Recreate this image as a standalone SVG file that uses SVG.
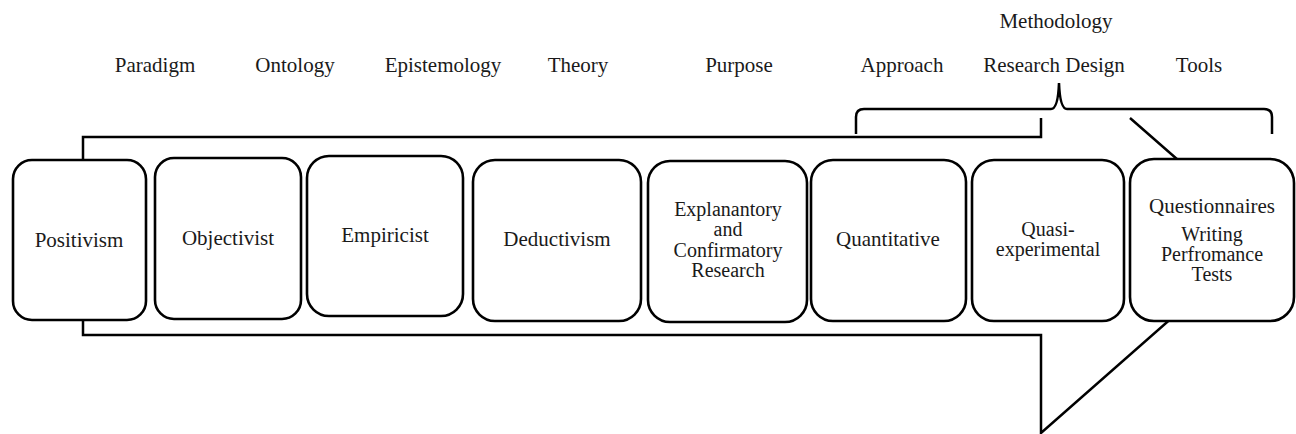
<svg xmlns="http://www.w3.org/2000/svg" width="1296" height="434" viewBox="0 0 1296 434">
<style>
.ln{fill:none;stroke:#000;stroke-width:2.5;stroke-linejoin:miter}
.bx{fill:#fff;stroke:#000;stroke-width:2.6}
.t{font-family:"Liberation Serif","Times New Roman",serif;font-size:21px;fill:#1a1a1a;text-anchor:middle}
.m{font-size:20px}
</style>
<rect width="1296" height="434" fill="#fff"/>
<g id="connectors">
<path id="arrow" d="M1041,118 V137 H83 V335 H1041 V433 L1265,236 L1130,118" fill="#fff" stroke="#000" stroke-width="2.5"/>
<path id="brace" class="ln" d="M856,134 V117 Q856,109 864,109 H1051 Q1058,109 1059,83 Q1060,109 1067,109 H1264 Q1272,109 1272,117 V134"/>
</g>
<g id="headers" class="t">
<text x="1056" y="28">Methodology</text>
<text x="155" y="72">Paradigm</text>
<text x="295" y="72">Ontology</text>
<text x="443" y="72">Epistemology</text>
<text x="578" y="72">Theory</text>
<text x="739" y="72">Purpose</text>
<text x="902" y="72">Approach</text>
<text x="1054" y="72">Research Design</text>
<text x="1199" y="72">Tools</text>
</g>
<g class="t">
<g id="n1"><rect class="bx" x="13" y="160" width="133" height="160" rx="19"/><text x="79" y="247">Positivism</text></g>
<g id="n2"><rect class="bx" x="155" y="158" width="146" height="161" rx="19"/><text x="228" y="245">Objectivist</text></g>
<g id="n3"><rect class="bx" x="307" y="156" width="156" height="160" rx="22"/><text x="385" y="242">Empiricist</text></g>
<g id="n4"><rect class="bx" x="473" y="160" width="168" height="161" rx="22"/><text x="557" y="246">Deductivism</text></g>
<g id="n5" class="m"><rect class="bx" x="648" y="161" width="159" height="161" rx="22"/>
<text x="728" y="216">Explanantory</text><text x="728" y="236">and</text><text x="728" y="257">Confirmatory</text><text x="728" y="277">Research</text></g>
<g id="n6"><rect class="bx" x="811" y="160" width="155" height="161" rx="22"/><text x="888" y="246">Quantitative</text></g>
<g id="n7" class="m"><rect class="bx" x="972" y="160" width="152" height="161" rx="22"/><text x="1048" y="236">Quasi-</text><text x="1048" y="256">experimental</text></g>
<g id="n8" class="m"><rect class="bx" x="1130" y="159" width="164" height="162" rx="24"/>
<text x="1212" y="213" font-size="21">Questionnaires</text><text x="1212" y="241">Writing</text><text x="1212" y="261">Perfromance</text><text x="1212" y="281">Tests</text></g>
</g>
</svg>
